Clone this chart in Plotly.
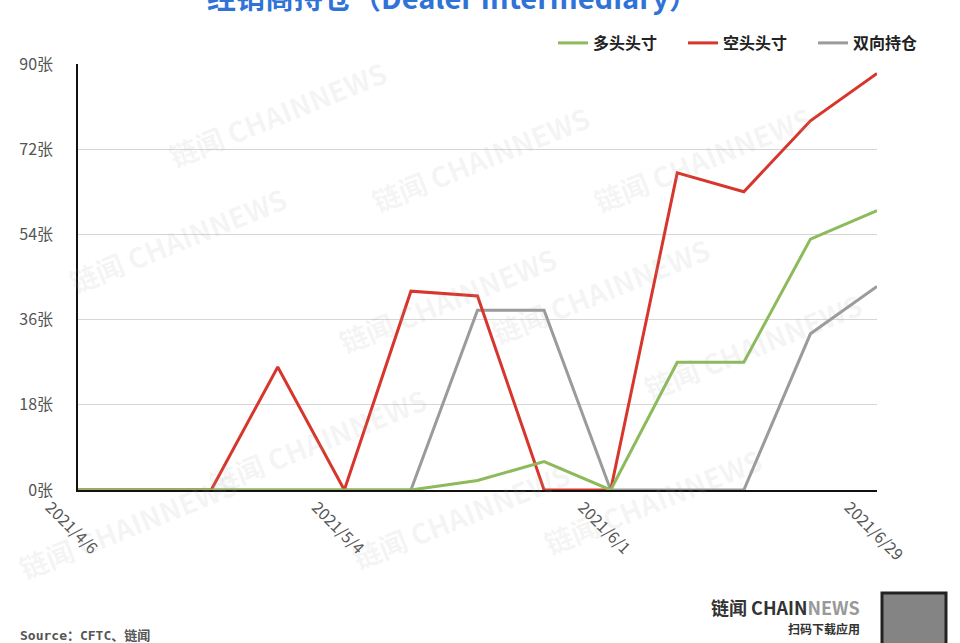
import plotly.graph_objects as go

dates = ["2021/4/6", "2021/4/13", "2021/4/20", "2021/4/27", "2021/5/4", "2021/5/11",
         "2021/5/18", "2021/5/25", "2021/6/1", "2021/6/8", "2021/6/15", "2021/6/22", "2021/6/29"]
long_pos = [0, 0, 0, 0, 0, 0, 2, 6, 0, 27, 27, 53, 59]
short_pos = [0, 0, 0, 26, 0, 42, 41, 0, 0, 67, 63, 78, 88]
spread_pos = [0, 0, 0, 0, 0, 0, 38, 38, 0, 0, 0, 33, 43]
y_ticks = [0, 18, 36, 54, 72, 90]
y_ticktext = [f"{v}张" for v in y_ticks]
x_tickdates = ["2021/4/6", "2021/5/4", "2021/6/1", "2021/6/29"]

FONT = "Noto Sans CJK SC, Noto Sans, sans-serif"
GREEN = "#8dba5b"
RED = "#d7362c"
GRAY = "#9b9b9b"

L, R, T, B = 78, 877, 64, 490
W, H = R - L, B - T


def px(x):
    return (x - L) / W


def py(y):
    return (B - y) / H


fig = go.Figure()
fig.add_trace(go.Scatter(x=dates, y=spread_pos, mode="lines", name="双向持仓",
                         line=dict(color=GRAY, width=3)))
fig.add_trace(go.Scatter(x=dates, y=short_pos, mode="lines", name="空头头寸",
                         line=dict(color=RED, width=3)))
fig.add_trace(go.Scatter(x=dates, y=long_pos, mode="lines", name="多头头寸",
                         line=dict(color=GREEN, width=3)))

# watermarks
wm = [(160, 50), (480, 95), (820, 95), (60, 240), (330, 300), (600, 355), (870, 410),
      (200, 505), (460, 580), (770, 565), (10, 590)]
for (x0, y0) in wm:
    fig.add_annotation(x=px(x0), y=py(y0), xref="paper", yref="paper",
                       text="<b>链闻 CHAINNEWS</b>", showarrow=False, textangle=-22,
                       font=dict(family=FONT, size=28, color="rgba(170,170,170,0.12)"))

fig.update_layout(
    width=960, height=643,
    paper_bgcolor="white", plot_bgcolor="white",
    margin=dict(l=L, r=960 - R, t=T, b=643 - B, autoexpand=False),
    font=dict(family=FONT, color="#555555", size=16),
    showlegend=True,
    legend=dict(orientation="h", x=px(943), xanchor="right", y=py(43), yanchor="middle",
                traceorder="reversed", entrywidth=85, entrywidthmode="pixels",
                font=dict(family=FONT, size=16, color="#222222", weight="bold"),
                itemwidth=30, bgcolor="rgba(0,0,0,0)"),
    xaxis=dict(type="category", range=[0, 12], showgrid=False,
               showline=True, linecolor="#111111", linewidth=1.5,
               tickmode="array", tickvals=x_tickdates, ticktext=x_tickdates,
               tickangle=45, ticks="", ticklabelshift=-28, ticklabelstandoff=0,
               tickfont=dict(family=FONT, size=16, color="#555555")),
    yaxis=dict(range=[0, 90], tickvals=y_ticks, ticktext=y_ticktext,
               showgrid=True, gridcolor="#d6d6d6", gridwidth=1,
               showline=True, linecolor="#111111", linewidth=1.5,
               zeroline=False, ticks="", ticklabelstandoff=20,
               tickfont=dict(family=FONT, size=16, color="#555555")),
)

fig.add_annotation(x=px(452), y=py(-4), xref="paper", yref="paper",
                   xanchor="center", yanchor="middle", showarrow=False,
                   text="<b>经销商持仓（Dealer Intermediary）</b>",
                   font=dict(family=FONT, size=29, color="#2f72d8"))
fig.add_annotation(x=px(18), y=py(635), xref="paper", yref="paper",
                   xanchor="left", yanchor="middle", showarrow=False,
                   text="<b>Source：CFTC、链闻</b>",
                   font=dict(family="DejaVu Sans Mono, " + FONT, size=13, color="#555555"))
fig.add_annotation(x=px(862), y=py(607), xref="paper", yref="paper",
                   xanchor="right", yanchor="middle", showarrow=False,
                   text="<b>链闻 CHAIN<span style='color:#999999'>NEWS</span></b>",
                   font=dict(family=FONT, size=18, color="#333333"))
fig.add_annotation(x=px(862), y=py(628), xref="paper", yref="paper",
                   xanchor="right", yanchor="middle", showarrow=False,
                   text="<b>扫码下载应用</b>",
                   font=dict(family=FONT, size=12, color="#333333"))
fig.add_shape(type="rect", xref="paper", yref="paper",
              x0=px(882), x1=px(946), y0=py(645), y1=py(593),
              line=dict(color="#222222", width=3), fillcolor="rgba(50,50,50,0.6)")

fig.write_html("out.html", post_script="document.body.style.margin='0';",
               config={"displayModeBar": False})
